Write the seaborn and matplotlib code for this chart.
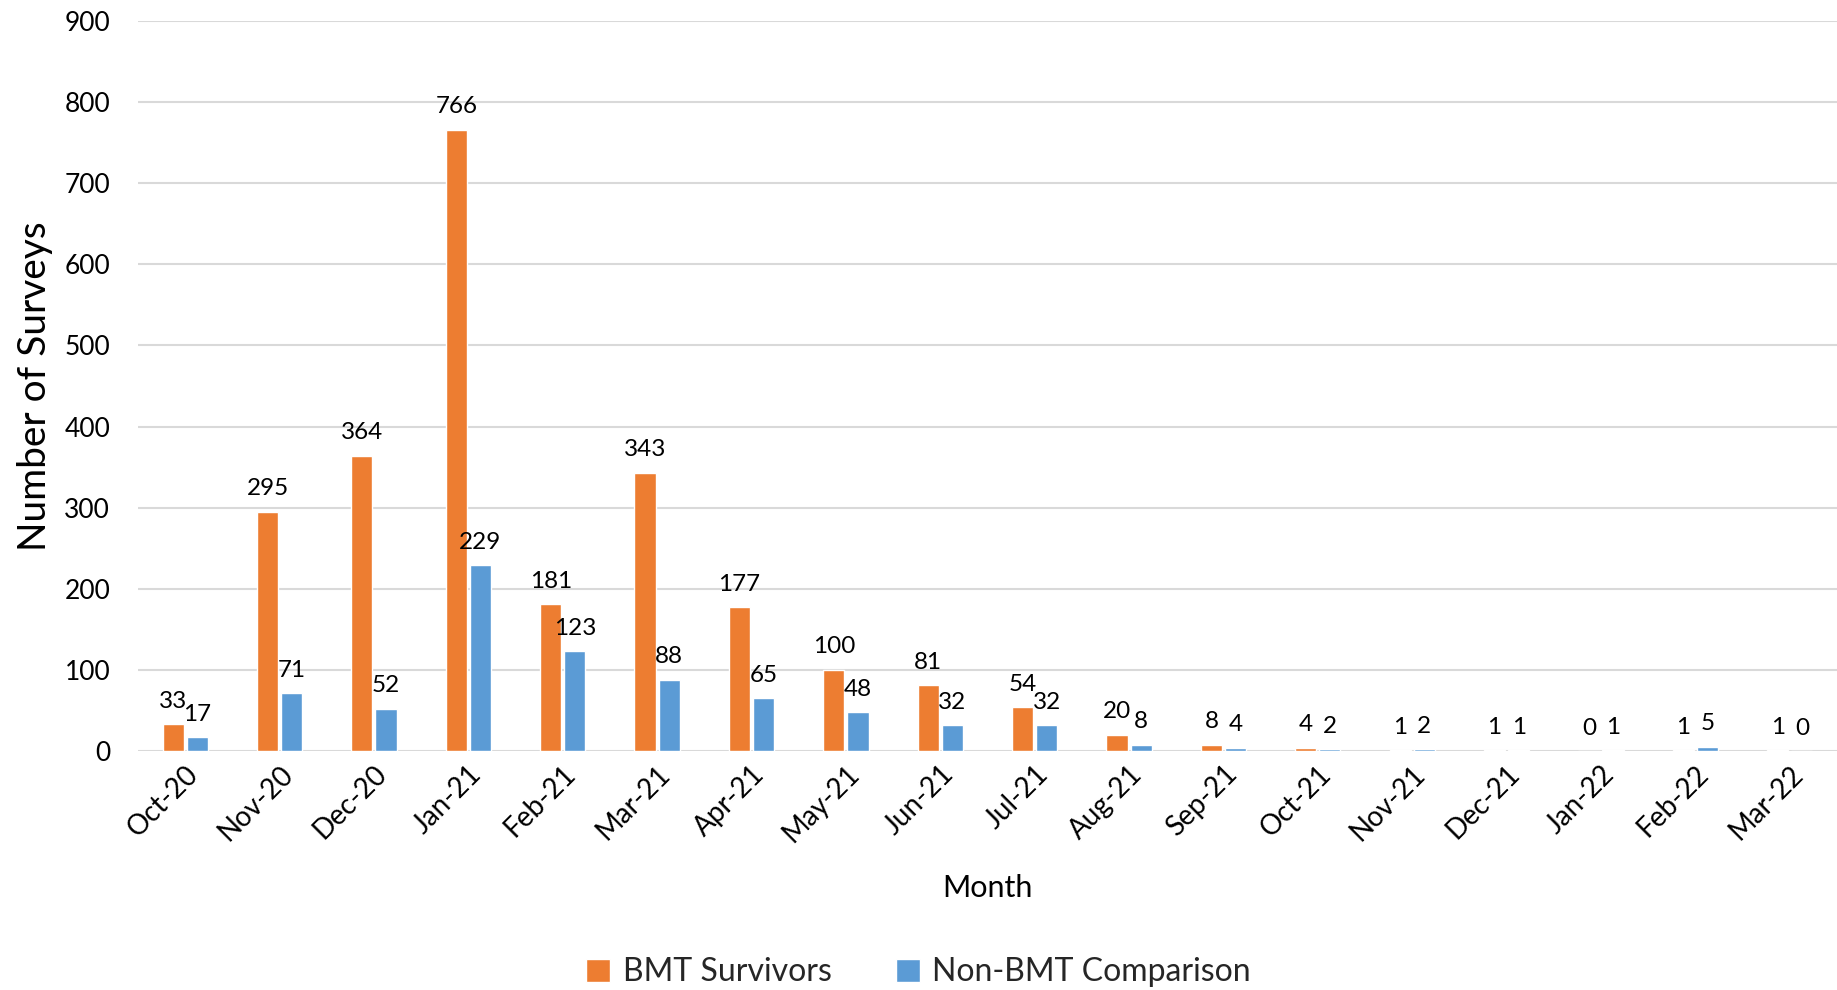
import matplotlib
matplotlib.use("Agg")
import matplotlib.pyplot as plt
import seaborn as sns
import pandas as pd

months = ["Oct-20", "Nov-20", "Dec-20", "Jan-21", "Feb-21", "Mar-21", "Apr-21", "May-21", "Jun-21",
          "Jul-21", "Aug-21", "Sep-21", "Oct-21", "Nov-21", "Dec-21", "Jan-22", "Feb-22", "Mar-22"]
bmt = [33, 295, 364, 766, 181, 343, 177, 100, 81, 54, 20, 8, 4, 1, 1, 0, 1, 1]
non_bmt = [17, 71, 52, 229, 123, 88, 65, 48, 32, 32, 8, 4, 2, 2, 1, 1, 5, 0]
groups = ["BMT Survivors", "Non-BMT Comparison"]
yticks = [0, 100, 200, 300, 400, 500, 600, 700, 800, 900]

df = pd.DataFrame({
    "Month": months * 2,
    "Surveys": bmt + non_bmt,
    "Group": [groups[0]] * len(months) + [groups[1]] * len(months),
})

sns.set_theme(style="white")
plt.rcParams["font.family"] = ["Lato", "DejaVu Sans"]

fig = plt.figure(figsize=(18.37, 9.9), dpi=100)
ax = fig.add_axes([0.0751, 0.2414, 0.9249, 0.7374])

sns.barplot(data=df, x="Month", y="Surveys", hue="Group", order=months, hue_order=groups,
            palette=["#ED7D31", "#5B9BD5"], saturation=1, width=0.51, gap=0.12, ax=ax, legend=True)

for cont in ax.containers:
    ax.bar_label(cont, fmt="%d", padding=9, fontsize=17.5, color="#000000")

ax.set_ylim(0, 900)
ax.set_xlim(-0.5, len(months) - 0.5)
ax.set_yticks(yticks)
ax.yaxis.grid(True, color="#D9D9D9", linewidth=1.5)
ax.set_axisbelow(True)
for s in ax.spines.values():
    s.set_visible(False)

ax.tick_params(axis="y", length=0, pad=20, labelsize=19, labelcolor="#000000")
ax.tick_params(axis="x", length=0, pad=7, labelsize=20, labelcolor="#000000")
for lab in ax.get_xticklabels():
    lab.set_rotation(45)
    lab.set_ha("right")
    lab.set_va("top")
    lab.set_rotation_mode("anchor")

ax.set_xlabel("Month", fontsize=22, color="#000000")
ax.xaxis.set_label_coords(0.5, -0.168)
ax.set_ylabel("Number of Surveys", fontsize=28, color="#000000")
ax.yaxis.set_label_coords(-0.05, 0.5)

ax.legend_.remove()
handles, labels = ax.get_legend_handles_labels()
fig.legend(handles, labels, loc="lower center", bbox_to_anchor=(0.5, -0.02), ncol=2, frameon=False,
           fontsize=23, handlelength=0.75, handleheight=0.75, handletextpad=0.4, columnspacing=2.0,
           borderpad=0.2)

fig.savefig("out.png", dpi=100)
